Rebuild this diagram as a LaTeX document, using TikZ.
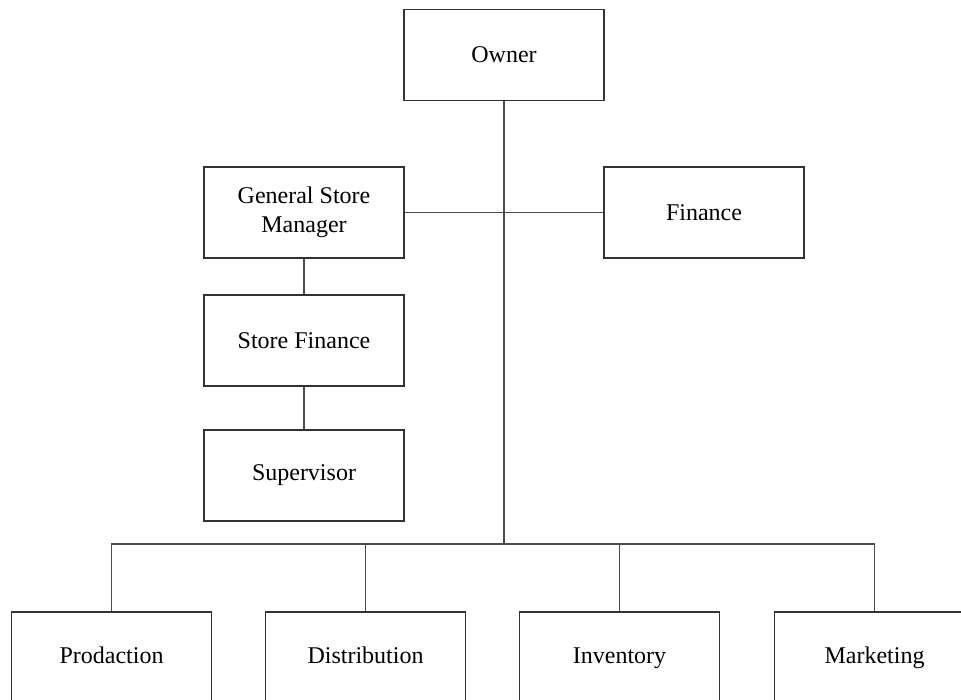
\documentclass[tikz,border=0pt]{standalone}
\usepackage{fontspec}
\setmainfont{Liberation Serif}
\begin{document}
\begin{tikzpicture}[x=1pt,y=-1pt,
  unit/.style={draw=black!80, line width=1.2pt, fill=white, minimum width=200pt,
    minimum height=91pt, inner sep=2pt, align=center,
    font=\fontsize{24}{29}\selectfont},
  low/.style={unit, minimum height=92pt, text height=16pt, text depth=5pt},
  link/.style={draw=black!70, line width=1.2pt}]
\useasboundingbox (0,0) rectangle (961,700);
\clip (0,0) rectangle (961,700);

% upper levels
\node[unit] (owner) at (504,55) {Owner};
\node[unit] (gsm) at (304,212.5) {General Store\\Manager};
\node[unit] (fin) at (704,212.5) {Finance};
\node[unit] (sf) at (304,340.5) {Store Finance};
\node[unit] (sup) at (304,475.5) {Supervisor};

% departments
\node[low] (prod) at (111.5,658) {Prodaction};
\node[low] (dist) at (365.5,658) {Distribution};
\node[low] (inv) at (619.5,658) {Inventory};
\node[low] (mkt) at (874.5,658) {Marketing};

\coordinate (bus) at (504,544);

% connectors
\draw[link] (owner.south) -- (bus);
\draw[link] (gsm.east) -- (fin.west);
\draw[link] (gsm.south) -- (sf.north);
\draw[link] (sf.south) -- (sup.north);
\draw[link] (prod.north) -- (prod.north |- bus) -- (mkt.north |- bus) -- (mkt.north);
\draw[link] (dist.north) -- (dist.north |- bus);
\draw[link] (inv.north) -- (inv.north |- bus);
\end{tikzpicture}
\end{document}
